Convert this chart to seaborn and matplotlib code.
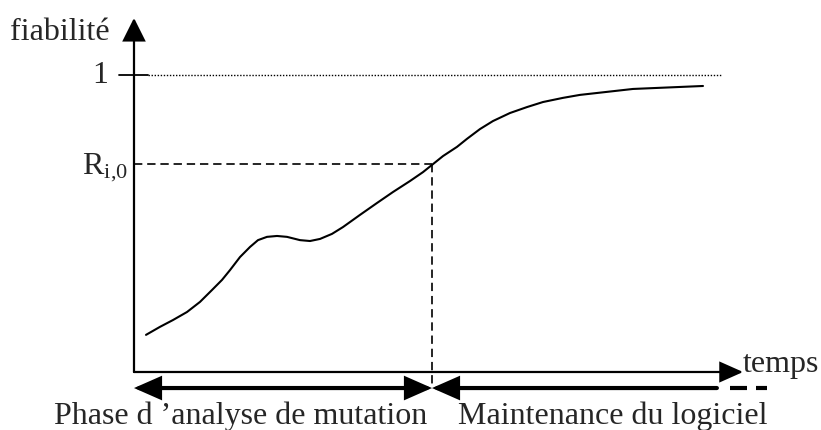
"""
Courbe de fiabilité : phase d'analyse de mutation puis maintenance du logiciel.
"""

import matplotlib

matplotlib.use("Agg")
import matplotlib.pyplot as plt
from matplotlib.patches import FancyArrowPatch
import pandas as pd
import seaborn as sns

# ===== données (temps arbitraire, fiabilité 0..1) =====
temps = [0.403, 0.872, 1.309, 1.779, 2.215, 2.617, 2.953, 3.221, 3.557,
         3.893, 4.161, 4.463, 4.799, 5.134, 5.570, 5.906, 6.242, 6.644,
         7.013, 7.584, 8.154, 8.691, 9.262, 9.698, 10.034, 10.369, 10.839,
         11.174, 11.611, 12.047, 12.617, 13.188, 13.725, 14.396, 14.966,
         16.745, 19.094]
fiabilite = [0.125, 0.152, 0.175, 0.202, 0.236, 0.276, 0.310, 0.343, 0.387,
             0.421, 0.444, 0.455, 0.458, 0.455, 0.444, 0.441, 0.448, 0.465,
             0.488, 0.529, 0.569, 0.606, 0.643, 0.673, 0.700, 0.727, 0.758,
             0.785, 0.818, 0.845, 0.872, 0.892, 0.909, 0.923, 0.933,
             0.953, 0.963]

T_PHASE = 10.0          # fin de la phase d'analyse de mutation
R_I0 = 0.700            # fiabilité atteinte à T_PHASE
T_AXE_MAX = 20.44       # bout de la flèche des temps
R_AXE_MAX = 1.192       # bout de la flèche de fiabilité
T_POINTILLE_MAX = 19.73
T_MAINT_FIN = 19.56
T_MAINT_TIRETS = [(20.0, 20.57), (20.87, 21.24)]
Y_PHASES = -0.054

LABEL_Y = "fiabilité"
LABEL_X = "temps"
LABEL_R = r"R$_{\mathregular{i{,}0}}$"
LABEL_PHASE1 = "Phase d \u2019analyse de mutation"
LABEL_PHASE2 = "Maintenance du logiciel"

sns.set_theme(style="white")
plt.rcParams["font.family"] = ["Liberation Serif", "DejaVu Serif"]
plt.rcParams["mathtext.fontset"] = "stix"
plt.rcParams["lines.scale_dashes"] = False

FS = 23
NOIR = "black"

df = pd.DataFrame({"temps": temps, "fiabilite": fiabilite})

fig = plt.figure(figsize=(8.21, 4.30), dpi=100)
ax = fig.add_axes([0, 0, 1, 1])
ax.set_xlim(-4.4966, 23.054)
ax.set_ylim(-0.1953, 1.2525)
ax.axis("off")

# courbe de fiabilité
sns.lineplot(data=df, x="temps", y="fiabilite", ax=ax, color=NOIR,
             linewidth=1.5, sort=False, legend=False)


def fleche(p0, p1, style, lw, ms=20):
    ax.add_patch(FancyArrowPatch(p0, p1, arrowstyle=style, mutation_scale=ms,
                                 color=NOIR, linewidth=lw, shrinkA=0, shrinkB=0,
                                 joinstyle="miter"))


# axes
fleche((0, 0), (0, R_AXE_MAX), "-|>,head_length=0.72,head_width=0.36", 1.6)
fleche((0, 0), (T_AXE_MAX, 0), "-|>,head_length=0.72,head_width=0.32", 1.6)

# repère 1 et ligne pointillée
ax.plot([-0.5, 0.47], [1, 1], color=NOIR, lw=1.3)
ax.plot([0.47, T_POINTILLE_MAX], [1, 1], color=NOIR, lw=1.0, dashes=(1, 1.2))

# R_i,0 en tirets
ax.plot([0, T_PHASE], [R_I0, R_I0], color=NOIR, lw=1.2, dashes=(6, 3.5))
ax.plot([T_PHASE, T_PHASE], [R_I0, Y_PHASES], color=NOIR, lw=1.2, dashes=(6, 3.5))

# flèches des deux phases
fleche((0, Y_PHASES), (T_PHASE, Y_PHASES),
       "<|-|>,head_length=0.75,head_width=0.33", 3.0)
fleche((T_PHASE, Y_PHASES), (T_MAINT_FIN, Y_PHASES),
       "<|-,head_length=0.75,head_width=0.33", 3.0)
for t0, t1 in T_MAINT_TIRETS:
    ax.plot([t0, t1], [Y_PHASES, Y_PHASES], color=NOIR, lw=3.0,
            solid_capstyle="butt")

# textes
ax.text(-0.805, 1.118, LABEL_Y, fontsize=FS, ha="right", va="baseline")
ax.text(-0.87, 0.973, "1", fontsize=FS, ha="right", va="baseline")
ax.text(-0.2, 0.670, LABEL_R, fontsize=FS, ha="right", va="baseline")
ax.text(20.44, 0.0, LABEL_X, fontsize=FS, ha="left", va="baseline")
ax.text(9.83, -0.175, LABEL_PHASE1, fontsize=FS, ha="right", va="baseline")
ax.text(10.87, -0.175, LABEL_PHASE2, fontsize=FS, ha="left", va="baseline")

fig.savefig("out.png", dpi=100, facecolor="white")
plt.close(fig)
